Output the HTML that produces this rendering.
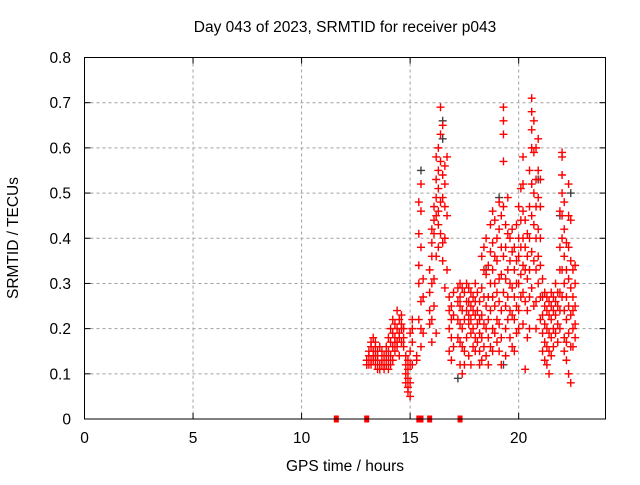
<!DOCTYPE html>
<html><head><meta charset="utf-8"><style>
body{margin:0;background:#fff;width:640px;height:480px;overflow:hidden}
svg{font-family:"Liberation Sans",sans-serif;font-size:15.5px}
</style></head><body>
<svg id="chart" width="640" height="480">
<text x="345" y="32" text-anchor="middle">Day 043 of 2023, SRMTID for receiver p043</text>
<text x="345" y="471" text-anchor="middle">GPS time / hours</text>
<text transform="translate(18,238) rotate(-90)" text-anchor="middle">SRMTID / TECUs</text>
<g id="grid"></g><g id="ticks"></g><g id="marks"></g>
<rect x="84.5" y="57.5" width="521" height="361.5" fill="none" stroke="#000"/>
</svg>
<script>
const xTicks=[0,5,10,15,20];
const yTicks=[0,0.1,0.2,0.3,0.4,0.5,0.6,0.7,0.8];
const yTickLabels=["0","0.1","0.2","0.3","0.4","0.5","0.6","0.7","0.8"];
const hours=[13.0,13.1,13.2,13.3,13.4,13.5,13.6,13.7,13.8,13.9,14.0,14.1,14.2,14.3,14.4,14.5,14.6,14.7,14.8,14.9,15.0,15.1,15.3,15.4,15.5,15.6,15.9,16.0,16.1,16.2,16.3,16.4,16.5,16.6,16.7,16.8,16.9,17.0,17.2,17.3,17.4,17.5,17.6,17.7,17.8,17.9,18.0,18.1,18.2,18.3,18.4,18.5,18.6,18.7,18.8,18.9,19.0,19.1,19.2,19.3,19.4,19.5,19.6,19.7,19.8,19.9,20.0,20.1,20.2,20.3,20.4,20.5,20.6,20.7,20.8,20.9,21.0,21.1,21.2,21.3,21.4,21.5,21.6,21.7,21.8,21.9,22.0,22.1,22.2,22.3,22.4,22.5,22.6];
const srmtid=[[.12,.13,.12],[.14,.12,.15],[.17,.13,.16,.12],[.15,.18,.14,.13],[.16,.12,.14,.17],[.13,.15,.11,.14],[.12,.16,.11],[.13,.12,.15],[.11,.14,.12],[.16,.12,.14],[.18,.13,.15,.11],[.17,.2,.14,.12],[.16,.19,.13,.22],[.18,.15,.21,.17],[.2,.17,.24,.16],[.19,.22,.18,.14],[.21,.17,.2,.23],[.2,.16,.18],[.14,.1,.12,.08],[.09,.06,.11,.13,.07],[.05,.08,.12,.19,.15],[.2,.22,.17,.12],[.14,.13],[.3,.34,.22,.48,.41],[.46,.52,.38,.2,.26,.16],[.27,.19,.31],[.21,.24,.28,.33],[.39,.42,.36,.3,.22,.17],[.47,.44,.31,.41,.25],[.58,.53,.49,.36,.45,.19],[.6,.55,.51,.46,.43,.38],[.63,.69,.57,.48,.41],[.65,.54,.49,.39,.35],[.56,.52,.47,.4,.29],[.58,.45,.33],[.27,.24,.2,.15],[.22,.18,.13,.25],[.28,.23,.16],[.22,.18,.26,.29],[.3,.27,.25,.21,.17,.12],[.29,.24,.2,.16,.1],[.28,.22,.15,.12],[.3,.26,.24,.18],[.29,.26,.23,.21,.14],[.28,.25,.22,.19,.12],[.27,.24,.2,.16],[.3,.26,.23,.18,.15],[.28,.24,.21,.17],[.26,.22,.19,.15,.12],[.36,.29,.23,.18,.13],[.38,.33,.27,.21,.16],[.4,.32,.25,.2,.14],[.34,.27,.22,.18,.12],[.43,.37,.3,.24,.16],[.46,.39,.33,.27,.2,.15],[.44,.36,.3,.25,.19],[.4,.35,.28,.22,.17],[.48,.42,.31,.26,.21,.15],[.45,.38,.32,.24,.18,.12],[.69,.66,.63,.57,.47,.36,.28],[.43,.38,.31,.25,.2,.14],[.49,.41,.33,.27,.22],[.4,.35,.3,.24,.18],[.42,.37,.29,.23,.16],[.38,.33,.27,.22,.15],[.43,.35,.3,.25,.19],[.47,.4,.36,.3,.24,.2],[.51,.44,.38,.32,.27],[.58,.52,.46,.4,.34,.28,.21],[.44,.38,.33,.26,.11],[.41,.36,.31,.24,.18],[.55,.47,.4,.33,.27,.2],[.71,.68,.64,.6,.52,.45,.37,.29],[.66,.59,.5,.43,.35,.25],[.6,.53,.47,.4,.33,.26,.2],[.62,.55,.49,.42,.36,.3],[.53,.47,.4,.34,.27,.22],[.31,.27,.23,.19,.15],[.28,.25,.21,.17,.13],[.27,.24,.2,.16,.12],[.26,.23,.19,.15,.1],[.28,.25,.22,.18,.14],[.27,.24,.2,.16],[.3,.26,.23,.19],[.28,.25,.21,.17],[.46,.38,.33,.28,.24,.2],[.59,.58,.54,.5,.45,.4,.33,.27],[.48,.42,.36,.3,.24,.18,.15],[.39,.33,.27,.22,.17,.13],[.52,.45,.38,.31,.25,.19,.1],[.44,.35,.29,.23,.16,.08],[.33,.27,.24,.2,.16],[.34,.3,.25,.21,.18]];
const grayHours=[15.5,16.5,16.5,17.2,19.1,19.3,21.9,22.4,20.9,18.5];
const grayValues=[.55,.66,.62,.09,.49,.12,.45,.5,.53,.33];
const zeroHours=[11.6,13.0,15.4,15.5,15.9,17.3];
const X0=84.5,X1=605.5,Y0=419,Y1=57.5,XMAX=24,YMAX=0.8;
const sx=h=>X0+h/XMAX*(X1-X0);
const sy=v=>Y0-v/YMAX*(Y0-Y1);
const NS="http://www.w3.org/2000/svg";
function mk(p,t,a){const e=document.createElementNS(NS,t);for(const k in a)e.setAttribute(k,a[k]);p.appendChild(e);return e;}
const grid=document.getElementById('grid'),ticks=document.getElementById('ticks'),marks=document.getElementById('marks');
xTicks.forEach(t=>{const x=sx(t);
 if(t>0){const g=mk(grid,'line',{x1:x,x2:x,y1:Y1,y2:Y0,stroke:'#a0a0a0','stroke-dasharray':'3,3'});
 
 }
 mk(ticks,'line',{x1:x,x2:x,y1:Y0,y2:Y0-6,stroke:'#000'});
 mk(ticks,'line',{x1:x,x2:x,y1:Y1,y2:Y1+6,stroke:'#000'});
 const l=mk(ticks,'text',{x:x,y:443,'text-anchor':'middle'});l.textContent=t;
 
 });
yTicks.forEach((t,i)=>{const y=sy(t);
 if(i>0&&i<yTicks.length-1){const g=mk(grid,'line',{x1:X0,x2:X1,y1:y,y2:y,stroke:'#a0a0a0','stroke-dasharray':'3,3'});
 
 }
 mk(ticks,'line',{x1:X0,x2:X0+6,y1:y,y2:y,stroke:'#000'});
 mk(ticks,'line',{x1:X1,x2:X1-6,y1:y,y2:y,stroke:'#000'});
 const l=mk(ticks,'text',{x:71,y:y+5.5,'text-anchor':'end'});l.textContent=yTickLabels[i];
 
 });
function plus(h,v,c,name){const x=sx(h),y=sy(v);
 const p=mk(marks,'path',{d:`M${x-4},${y}h8M${x},${y-4}v8`,stroke:c,'stroke-width':1.4,fill:'none'});
 
 }
grayHours.forEach((h,i)=>plus(h,grayValues[i],'#404040','gray-point'));
hours.forEach((h,i)=>srmtid[i].forEach(v=>plus(h,v,'#ff0000','srmtid-point')));
zeroHours.forEach(h=>{const r=mk(marks,'rect',{x:sx(h)-2.5,y:Y0-3.5,width:5,height:7,fill:'#ff0000'});
 
 });
</script>
</body></html>
